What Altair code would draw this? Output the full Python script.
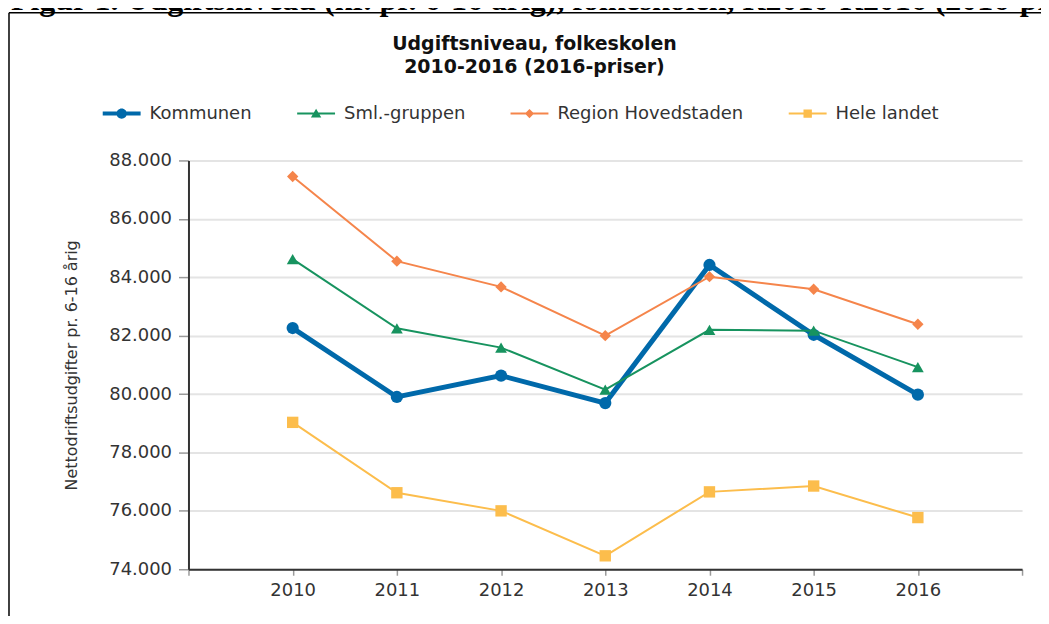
import altair as alt
import pandas as pd

# ---------------- data ----------------
years = [2010, 2011, 2012, 2013, 2014, 2015, 2016]
series_names = ["Kommunen", "Sml.-gruppen", "Region Hovedstaden", "Hele landet"]
kommunen = [82260, 79900, 80630, 79690, 84420, 82030, 79980]
sml_gruppen = [84620, 82250, 81590, 80150, 82200, 82170, 80920]
region_hovedstaden = [87450, 84550, 83670, 82000, 84020, 83590, 82390]
hele_landet = [79030, 76620, 76000, 74460, 76650, 76850, 75770]

colors = ["#0069aa", "#17935f", "#f5854b", "#fcbd4c"]
marker_shapes = ["circle", "triangle-up", "diamond", "square"]
marker_sizes = [150, 140, 130, 130]
line_widths = [5, 2, 2, 2]
y_ticks = [74000, 76000, 78000, 80000, 82000, 84000, 86000, 88000]
x_ticks = [2009, 2010, 2011, 2012, 2013, 2014, 2015, 2016, 2017]

title_lines = ["Udgiftsniveau, folkeskolen", "2010-2016 (2016-priser)"]
y_title = "Nettodriftsudgifter pr. 6-16 årig"
heading = "Figur 1. Udgiftsniveau (kr. pr. 6-16 årig), folkeskolen, R2010-R2016 (2016-priser)"

# legend symbols: line segment + marker (unit = sqrt(symbolSize)/2 px)
legend_paths = [
    "M-0.95,-0.1H0.95V0.1H-0.95Z M-0.26,0A0.26,0.26 0 1,1 0.26,0A0.26,0.26 0 1,1 -0.26,0Z",
    "M-0.95,-0.05H0.95V0.05H-0.95Z M0,-0.24L0.26,0.2L-0.26,0.2Z",
    "M-0.95,-0.05H0.95V0.05H-0.95Z M0,-0.23L0.23,0L0,0.23L-0.23,0Z",
    "M-0.95,-0.05H0.95V0.05H-0.95Z M-0.21,-0.21H0.21V0.21H-0.21Z",
]

rows = []
for name, vals in zip(series_names, [kommunen, sml_gruppen, region_hovedstaden, hele_landet]):
    for yr, v in zip(years, vals):
        rows.append({"year": yr, "value": v, "series": name})
df = pd.DataFrame(rows)
one = pd.DataFrame({"k": [0]})

FONT = "DejaVu Sans"

color_scale = alt.Scale(domain=series_names, range=colors)
shape_scale = alt.Scale(domain=series_names, range=legend_paths)

x_enc = alt.X(
    "year:Q",
    scale=alt.Scale(domain=[2009, 2017], nice=False, zero=False),
    axis=alt.Axis(
        values=x_ticks,
        labelExpr="datum.value == 2009 || datum.value == 2017 ? '' : format(datum.value, 'd')",
        title=None, grid=False,
        domainColor="#333333", domainWidth=2,
        tickColor="#9a9a9a", tickSize=6, tickWidth=1.5,
        labelFont=FONT, labelFontSize=18, labelColor="#333333", labelPadding=6,
        labelOverlap=False, labelFlush=False,
    ),
)
y_enc = alt.Y(
    "value:Q",
    scale=alt.Scale(domain=[74000, 88000], nice=False, zero=False),
    axis=alt.Axis(
        values=y_ticks,
        labelExpr="replace(format(datum.value, ',d'), ',', '.')",
        title=y_title, titleX=-117, titleY=205, titleAngle=270,
        titleBaseline="middle", titleAlign="center",
        titleFont=FONT, titleFontSize=16, titleFontWeight="normal", titleColor="#333333",
        grid=True, gridColor="#e4e4e4", gridWidth=2,
        domainColor="#333333", domainWidth=2,
        tickColor="#9a9a9a", tickSize=10, tickWidth=1.5,
        labelFont=FONT, labelFontSize=18, labelColor="#333333", labelPadding=7,
    ),
)

base = alt.Chart(df)

series_layers = []
for name, col, shp, sz, lw in zip(series_names, colors, marker_shapes, marker_sizes, line_widths):
    sub = base.transform_filter(alt.datum.series == name)
    series_layers.append(sub.mark_line(color=col, strokeWidth=lw).encode(x=x_enc, y=y_enc))
    series_layers.append(sub.mark_point(filled=True, opacity=1, color=col, shape=shp, size=sz)
                         .encode(x=x_enc, y=y_enc))

legend = alt.Legend(
    orient="none", legendX=-87, legendY=-67, direction="horizontal", title=None,
    labelFont=FONT, labelFontSize=18, labelColor="#333333", labelLimit=0,
    symbolSize=1600, symbolStrokeWidth=0, labelOffset=8, columnPadding=44, padding=0,
    symbolOpacity=1,
)
legend_layer = base.transform_filter("false").mark_point(filled=True, opacity=1).encode(
    x=x_enc, y=y_enc,
    color=alt.Color("series:N", scale=color_scale, legend=legend),
    shape=alt.Shape("series:N", scale=shape_scale, legend=legend),
)

frame_top = alt.Chart(one).mark_rule(color="#000000", strokeWidth=1.5).encode(
    x=alt.value(-180), x2=alt.value(900), y=alt.value(-148))
frame_left = alt.Chart(one).mark_rule(color="#000000", strokeWidth=1.5).encode(
    x=alt.value(-180), y=alt.value(-148), y2=alt.value(480))
heading_txt = alt.Chart(one).mark_text(
    text=heading, align="left", baseline="alphabetic", font="Liberation Serif",
    fontWeight="bold", fontSize=32, color="#000000").encode(x=alt.value(-178), y=alt.value(-151))

chart = alt.layer(
    frame_top, frame_left, heading_txt, *series_layers, legend_layer,
).properties(
    width=836, height=410,
    autosize=alt.AutoSizeParams(type="none"),
    padding={"left": 181, "top": 152, "right": 19, "bottom": 46},
    title=alt.TitleParams(
        text=title_lines, anchor="middle", dx=-71, font=FONT, fontSize=19,
        fontWeight="bold", color="#111111", lineHeight=23, offset=-93,
    ),
).configure_view(stroke=None)

chart.save("out.html", embed_options={"renderer": "svg", "actions": False})
